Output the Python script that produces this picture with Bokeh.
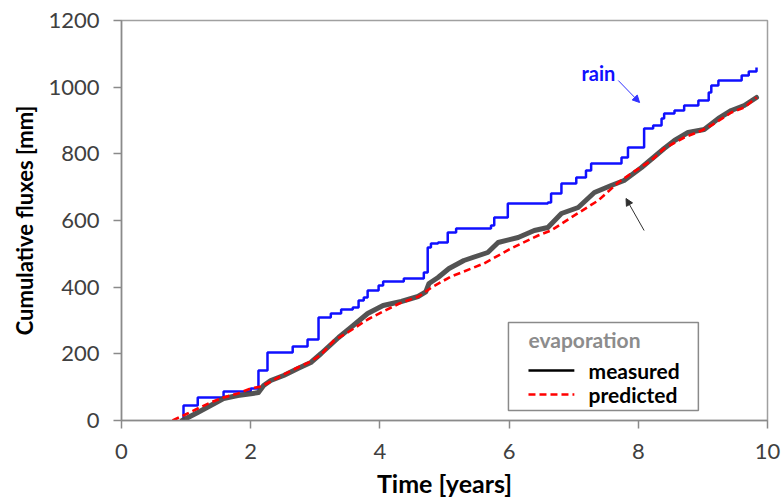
from bokeh.plotting import figure
from bokeh.models import (Range1d, FixedTicker, Label, Arrow, NormalHead,
                          BoxAnnotation)
from bokeh.embed import file_html
from bokeh.resources import INLINE

# Cumulative rainfall [mm] against time [years] (step series)
rain_t = [0.96, 0.96, 1.18, 1.58, 2.00, 2.12, 2.26, 2.65, 2.88, 3.05, 3.24, 3.40,
          3.58, 3.67, 3.75, 3.81, 3.98, 4.05, 4.37, 4.68, 4.74, 4.79, 4.90, 5.05,
          5.18, 5.72, 5.77, 5.98, 6.60, 6.65, 6.81, 7.04, 7.19, 7.27, 7.74, 7.84,
          8.09, 8.23, 8.36, 8.40, 8.56, 8.71, 8.93, 9.09, 9.13, 9.24, 9.60, 9.71,
          9.83]
rain_mm = [0, 45, 69, 87, 96, 150, 204, 222, 243, 309, 321, 333,
           339, 360, 369, 390, 405, 417, 426, 444, 519, 531, 534, 564,
           576, 585, 609, 651, 654, 681, 711, 729, 750, 771, 789, 819,
           876, 885, 906, 921, 930, 945, 960, 984, 1005, 1020, 1035, 1047,
           1059]

# Measured cumulative evaporation [mm]
meas_t = [0.94, 1.00, 1.18, 1.38, 1.58, 1.80, 2.03, 2.12, 2.20, 2.31, 2.51, 2.73,
          2.93, 3.09, 3.36, 3.55, 3.81, 4.05, 4.33, 4.59, 4.71, 4.76, 4.90, 5.07,
          5.30, 5.67, 5.83, 6.14, 6.39, 6.60, 6.81, 7.07, 7.32, 7.58, 7.78, 8.05,
          8.40, 8.56, 8.77, 9.02, 9.24, 9.44, 9.64, 9.83]
meas_mm = [0, 6, 24, 45, 66, 75, 81, 84, 105, 120, 135, 156,
           174, 201, 249, 279, 321, 345, 357, 372, 386, 411, 429, 456,
           480, 504, 534, 549, 570, 579, 621, 639, 684, 705, 720, 759,
           816, 840, 864, 873, 906, 930, 945, 969]

# Predicted cumulative evaporation [mm]
pred_t = [0.79, 0.99, 1.18, 1.38, 1.58, 1.80, 2.00, 2.16, 2.31, 2.51, 2.73, 2.93,
          3.09, 3.29, 3.50, 3.81, 4.05, 4.30, 4.60, 4.80, 5.10, 5.30, 5.61, 6.03,
          6.45, 6.65, 6.96, 7.38, 7.69, 7.89, 8.20, 8.40, 8.71, 8.98, 9.13, 9.44,
          9.64, 9.83]
pred_mm = [0, 18, 36, 54, 69, 81, 96, 102, 117, 138, 159, 177,
           198, 240, 264, 303, 327, 351, 372, 399, 432, 447, 471, 516,
           555, 570, 609, 660, 714, 741, 780, 816, 849, 870, 885, 924,
           939, 969]

x_ticks = [0, 2, 4, 6, 8, 10]
y_ticks = [0, 200, 400, 600, 800, 1000, 1200]

FONT = "Lato"
AXIS_GREY = "#8a8a8a"
RAIN_BLUE = "#1010ff"

p = figure(width=782, height=503, output_backend="svg", toolbar_location=None,
           x_range=Range1d(0, 10), y_range=Range1d(0, 1200),
           min_border_left=121, min_border_right=15,
           min_border_top=20, min_border_bottom=83,
           background_fill_color="white", border_fill_color="white")

p.xgrid.visible = False
p.ygrid.visible = False
p.outline_line_color = "#a0a0a0"
p.outline_line_width = 1.5

for ax in (p.xaxis[0], p.yaxis[0]):
    ax.axis_line_color = AXIS_GREY
    ax.axis_line_width = 1.5
    ax.major_tick_line_color = AXIS_GREY
    ax.major_tick_line_width = 1.5
    ax.major_tick_in = 0
    ax.major_tick_out = 8
    ax.minor_tick_line_color = None
    ax.major_label_text_font = FONT
    ax.major_label_text_font_size = "22px"
    ax.major_label_text_color = "#404040"
    ax.axis_label_text_font = FONT
    ax.axis_label_text_font_style = "bold"
    ax.axis_label_text_color = "#000000"

p.xaxis.ticker = FixedTicker(ticks=x_ticks)
p.yaxis.ticker = FixedTicker(ticks=y_ticks)
p.xaxis.axis_label = "Time [years]"
p.yaxis.axis_label = "Cumulative fluxes [mm]"
p.xaxis.axis_label_text_font_size = "25px"
p.yaxis.axis_label_text_font_size = "22px"
p.xaxis.major_label_standoff = 15
p.yaxis.major_label_standoff = 14
p.xaxis.axis_label_standoff = 6
p.yaxis.axis_label_standoff = 7

# Rain: stepwise cumulative total
p.step(rain_t, rain_mm, mode="after", line_color=RAIN_BLUE, line_width=2.5)

# Evaporation: measured (thick grey) and predicted (red dashed)
p.line(meas_t, meas_mm, line_color="#4a4a4a", line_width=5, line_alpha=0.95,
       line_join="round", line_cap="round")
p.line(pred_t, pred_mm, line_color="#ff0000", line_width=2.6,
       line_dash="7 4")

# Legend box for the evaporation series
p.add_layout(BoxAnnotation(left=5.99, right=8.93, bottom=30, top=294,
                           fill_color="white", fill_alpha=1,
                           line_color="#8a8a8a", line_width=1.5,
                           line_alpha=1, level="overlay"))
p.add_layout(Label(x=6.30, y=243, text="evaporation", text_color="#8c8c8c",
                   text_font=FONT, text_font_size="21px", text_font_style="bold",
                   text_baseline="middle", level="overlay"))
p.add_layout(Arrow(x_start=6.30, y_start=150, x_end=7.01, y_end=150, end=None,
                   line_color="black", line_width=2.5, level="overlay"))
p.add_layout(Label(x=7.23, y=150, text="measured", text_color="black",
                   text_font=FONT, text_font_size="21px", text_font_style="bold",
                   text_baseline="middle", level="overlay"))
p.add_layout(Arrow(x_start=6.30, y_start=78, x_end=7.01, y_end=78, end=None,
                   line_color="#ff0000", line_width=2.6, line_dash="7 4",
                   level="overlay"))
p.add_layout(Label(x=7.23, y=78, text="predicted", text_color="black",
                   text_font=FONT, text_font_size="21px", text_font_style="bold",
                   text_baseline="middle", level="overlay"))

# Annotations
p.add_layout(Label(x=7.12, y=1044, text="rain", text_color=RAIN_BLUE,
                   text_font=FONT, text_font_size="20px", text_font_style="bold",
                   text_baseline="alphabetic"))
p.add_layout(Arrow(x_start=7.69, y_start=1020, x_end=8.02, y_end=954,
                   line_color="#3030ff", line_width=1,
                   end=NormalHead(size=7, fill_color="#3030ff",
                                  line_color="#3030ff")))
p.add_layout(Arrow(x_start=8.09, y_start=570, x_end=7.81, y_end=666,
                   line_color="#303030", line_width=1,
                   end=NormalHead(size=7, fill_color="#303030",
                                  line_color="#303030")))

open("out.html", "w").write(file_html(p, INLINE))
